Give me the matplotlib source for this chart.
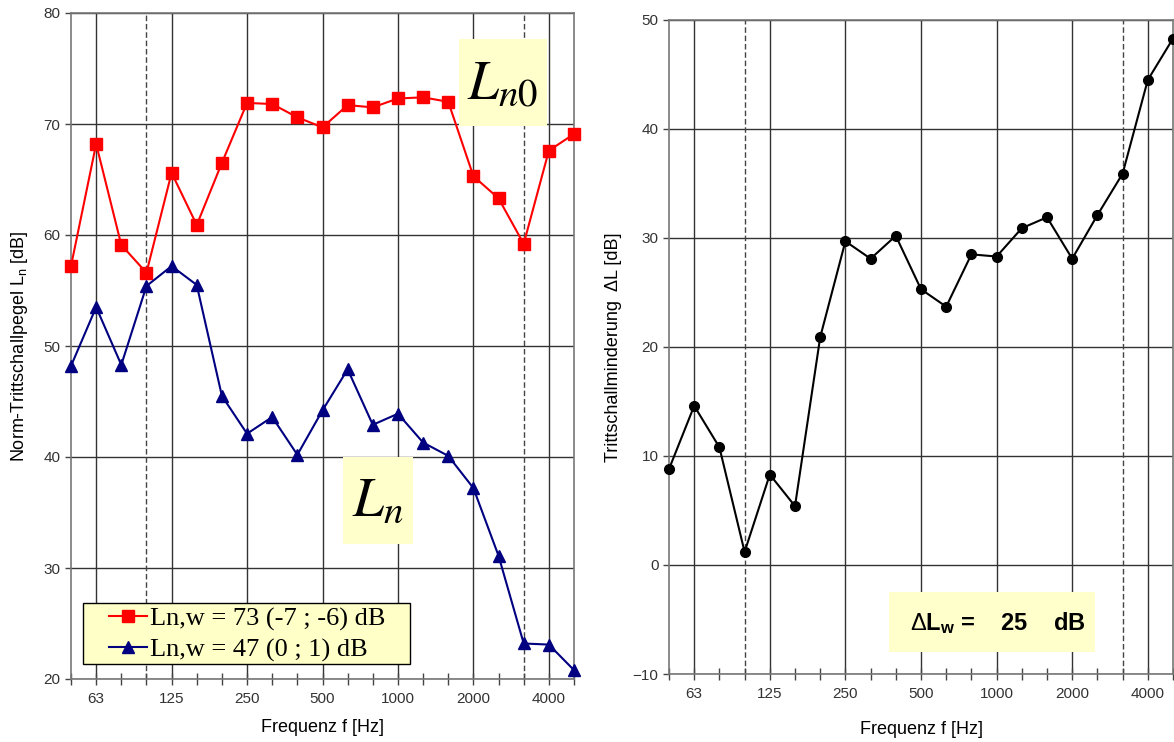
import matplotlib.pyplot as plt
from matplotlib.patches import Rectangle
import numpy as np

plt.rcParams['font.family'] = ['Liberation Sans', 'DejaVu Sans']
plt.rcParams['mathtext.fontset'] = 'custom'
plt.rcParams['mathtext.rm'] = 'Liberation Sans'
plt.rcParams['mathtext.it'] = 'Liberation Sans:italic'
plt.rcParams['mathtext.bf'] = 'Liberation Sans:bold'

# third-octave band centre frequencies [Hz]
freqs = [50, 63, 80, 100, 125, 160, 200, 250, 315, 400, 500,
         630, 800, 1000, 1250, 1600, 2000, 2500, 3150, 4000, 5000]
tick_freqs = [63, 125, 250, 500, 1000, 2000, 4000]

# Norm-Trittschallpegel, Rohdecke (Ln0) and mit Auflage (Ln)
ln0 = [57.2, 68.2, 59.1, 56.6, 65.6, 60.9, 66.5, 71.9, 71.8, 70.6, 69.7,
       71.7, 71.5, 72.3, 72.4, 72.0, 65.3, 63.3, 59.2, 67.6, 69.1]
ln = [48.2, 53.5, 48.3, 55.4, 57.2, 55.5, 45.5, 42.1, 43.6, 40.2, 44.2,
      47.9, 42.9, 43.9, 41.3, 40.1, 37.2, 31.1, 23.2, 23.1, 20.8]
# Trittschallminderung
delta_l = [8.8, 14.6, 10.8, 1.2, 8.3, 5.4, 20.9, 29.7, 28.1, 30.2, 25.3,
           23.7, 28.5, 28.3, 30.9, 31.9, 28.1, 32.1, 35.9, 44.5, 48.3]

legend_ln0 = 'Ln,w = 73 (-7 ; -6) dB'
legend_ln = 'Ln,w = 47 (0 ; 1) dB'
dlw_text = r'$\Delta\mathbf{L_w}$ =    25    dB'

x = np.arange(len(freqs))
major_idx = [freqs.index(f) for f in tick_freqs]
range_idx = [freqs.index(100), freqs.index(3150)]

fig = plt.figure(figsize=(11.74, 7.42), dpi=100)
ax1 = fig.add_axes([71 / 1174, 1 - 679 / 742, 503 / 1174, 666 / 742])
ax2 = fig.add_axes([669 / 1174, 1 - 674 / 742, 504 / 1174, 654 / 742])

grid_col = '#333333'
box_col = '#FFFFCC'


def style_axes(ax, ylim, xlabelpad):
    ax.set_xlim(0, len(freqs) - 1)
    ax.set_ylim(*ylim)
    ax.set_xticks(major_idx)
    ax.set_xticklabels([str(f) for f in tick_freqs])
    ax.set_xticks(x, minor=True)
    ax.set_yticks(np.arange(ylim[0], ylim[1] + 1, 10))
    ax.tick_params(axis='x', which='both', direction='inout', length=9,
                   width=1, color='#444444')
    ax.tick_params(axis='y', direction='out', length=4, width=1,
                   color='#444444')
    ax.tick_params(axis='both', labelsize=11, labelcolor='#333333')
    ax.tick_params(axis='x', which='major', pad=5)
    ax.grid(True, which='major', color=grid_col, linewidth=1)
    ax.set_axisbelow(True)
    for s in ax.spines.values():
        s.set_color('#777777')
        s.set_linewidth(1.2)
    for i in range_idx:
        ax.axvline(x[i], color='#444444', linewidth=1, linestyle=(0, (4, 2)),
                   zorder=1)
    ax.set_xlabel('Frequenz f [Hz]', fontsize=13, labelpad=xlabelpad)


# left panel
style_axes(ax1, (20, 80), 9)
ax1.plot(x, ln0, color='#FF0000', marker='s', markersize=8, linewidth=1.5,
         label=legend_ln0, zorder=3, clip_on=False)
ax1.plot(x, ln, color='#000080', marker='^', markersize=8, linewidth=1.5,
         label=legend_ln, zorder=3, clip_on=False)
ax1.set_ylabel('Norm-Trittschallpegel L$_\\mathrm{n}$ [dB]', fontsize=13,
               labelpad=10)

# legend frame and entries
ax1.add_patch(Rectangle((0.024, 0.0225), 0.650, 0.0915, transform=ax1.transAxes,
                        fc='#FFFFC8', ec='black', lw=1, zorder=5))
leg = ax1.legend(loc='center left', bbox_to_anchor=(0.076, 0.067),
                 prop={'family': 'Liberation Serif', 'size': 19},
                 frameon=False, borderpad=0, handlelength=1.45,
                 handletextpad=0.1, labelspacing=0.25, borderaxespad=0)
leg.set_zorder(6)

# Ln0 / Ln label boxes
ax1.add_patch(Rectangle((0.7714, 0.8303), 0.175, 0.1306, transform=ax1.transAxes,
                        fc=box_col, ec='none', zorder=4))
ax1.text(0.859, 0.892, r'$L_{n0}$', transform=ax1.transAxes, ha='center',
         va='center', fontsize=40, math_fontfamily='stix', zorder=5)
ax1.add_patch(Rectangle((0.5408, 0.2027), 0.139, 0.1306, transform=ax1.transAxes,
                        fc=box_col, ec='none', zorder=4))
ax1.text(0.610, 0.266, r'$L_n$', transform=ax1.transAxes, ha='center',
         va='center', fontsize=40, math_fontfamily='stix', zorder=5)

# right panel
style_axes(ax2, (-10, 50), 14)
ax2.plot(x, delta_l, color='black', marker='o', markersize=7, linewidth=1.5,
         zorder=3, clip_on=False)
ax2.set_ylabel('Trittschallminderung  \u0394L [dB]', fontsize=13, labelpad=8)
ax2.add_patch(Rectangle((0.4365, 0.0336), 0.409, 0.0917, transform=ax2.transAxes,
                        fc=box_col, ec='none', zorder=4))
ax2.text(0.653, 0.078, dlw_text, transform=ax2.transAxes, ha='center',
         va='center', fontsize=17, fontweight='bold', zorder=5)

fig.savefig('out.png', dpi=100)
